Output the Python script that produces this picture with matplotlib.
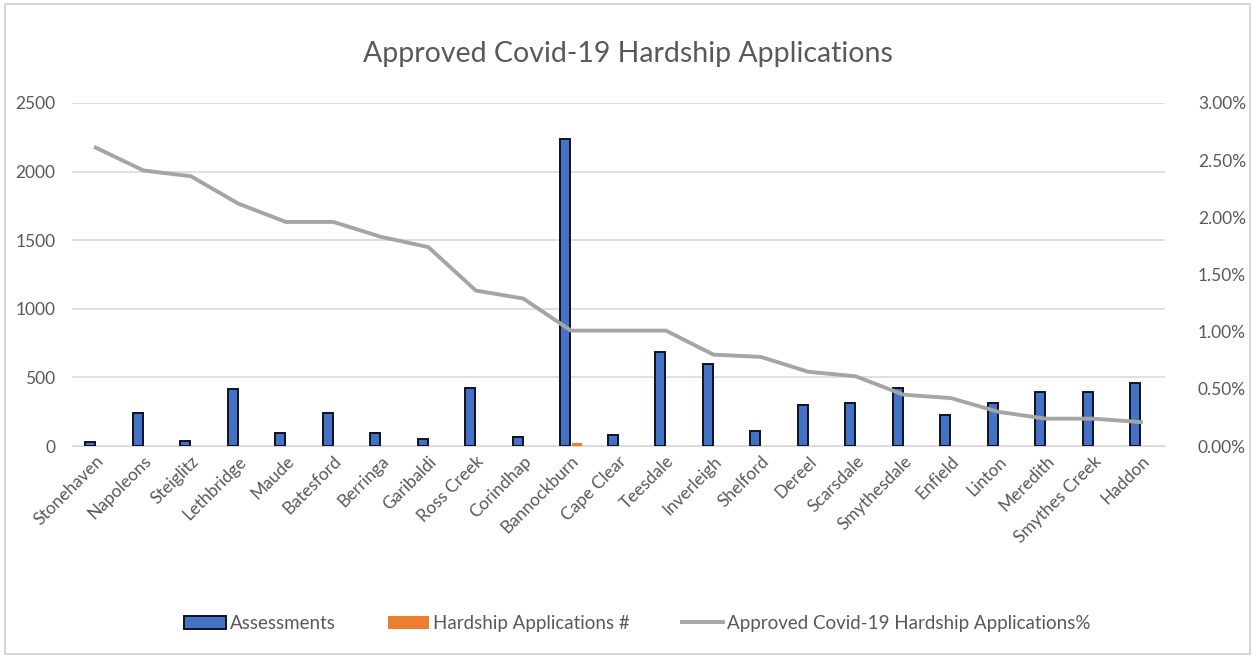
import numpy as np
import matplotlib
matplotlib.use("Agg")
import matplotlib.pyplot as plt
from matplotlib.ticker import FuncFormatter
from matplotlib.patches import Rectangle

plt.rcParams['font.family'] = ['Lato', 'DejaVu Sans']

towns = ['Stonehaven', 'Napoleons', 'Steiglitz', 'Lethbridge', 'Maude', 'Batesford',
         'Berringa', 'Garibaldi', 'Ross Creek', 'Corindhap', 'Bannockburn', 'Cape Clear',
         'Teesdale', 'Inverleigh', 'Shelford', 'Dereel', 'Scarsdale', 'Smythesdale',
         'Enfield', 'Linton', 'Meredith', 'Smythes Creek', 'Haddon']
assessments = [30, 240, 40, 415, 97, 240, 97, 55, 427, 66, 2235, 80,
               687, 597, 111, 299, 311, 427, 226, 311, 396, 396, 457]
hardship = [0, 1, 0, 2, 0, 1, 0, 0, 1, 0, 22, 0,
            1, 1, 0, 0, 0, 0, 0, 0, 0, 0, 0]
approved_pct = [2.61, 2.41, 2.36, 2.12, 1.96, 1.96, 1.83, 1.74, 1.36, 1.29, 1.01, 1.01,
                1.01, 0.80, 0.78, 0.65, 0.61, 0.45, 0.42, 0.30, 0.24, 0.24, 0.21]

txt = '#595959'
x = np.arange(len(towns))

fig = plt.figure(figsize=(12.55, 6.58), dpi=100)
ax = fig.add_axes([0.0574, 0.322, 0.8706, 0.5215])
ax2 = ax.twinx()

w = 0.21
ax.bar(x - 0.12, assessments, w, color='#4472c4', edgecolor='#111122', linewidth=1.4,
       label='Assessments', zorder=3)
ax.bar(x + 0.12, hardship, w, color='#ed7d31', label='Hardship Applications #', zorder=3)
ax2.plot(x, approved_pct, color='#a5a5a5', linewidth=2.8,
         label='Approved Covid-19 Hardship Applications%', zorder=4)

ax.set_xlim(-0.5, len(towns) - 0.5)
ax.set_ylim(0, 2500)
ax.set_yticks(np.arange(0, 2501, 500))
ax2.set_ylim(0, 3.0)
ax2.set_yticks(np.arange(0, 3.01, 0.5))
ax2.yaxis.set_major_formatter(FuncFormatter(lambda v, p: f'{v:.2f}%'))

ax.grid(axis='y', color='#d9d9d9', linewidth=1.2, zorder=0)
ax.set_axisbelow(True)
for a in (ax, ax2):
    for s in a.spines.values():
        s.set_visible(False)
    a.tick_params(length=0, colors=txt, labelsize=12.5)
ax.spines['bottom'].set_visible(True)
ax.spines['bottom'].set_color('#d9d9d9')
ax.tick_params(axis='y', pad=12)
ax2.tick_params(axis='y', pad=24)

ax.set_xticks(x)
ax.set_xticklabels(towns, rotation=45, ha='right', rotation_mode='anchor', fontsize=12.5)
ax.tick_params(axis='x', pad=5)

fig.suptitle('Approved Covid-19 Hardship Applications', y=0.937, fontsize=20.5, color=txt)

h1, l1 = ax.get_legend_handles_labels()
h2, l2 = ax2.get_legend_handles_labels()
fig.legend(h1 + h2, l1 + l2, loc='center', bbox_to_anchor=(0.508, 0.053), ncol=3,
           frameon=False, fontsize=13.5, labelcolor=txt, columnspacing=2.8,
           handlelength=2.2, handletextpad=0.2)

fig.patches.append(Rectangle((0.004, 0.006), 0.992, 0.988, transform=fig.transFigure,
                             fill=False, edgecolor='#d0d0d0', linewidth=1.2))

fig.savefig('out.png', dpi=100)
